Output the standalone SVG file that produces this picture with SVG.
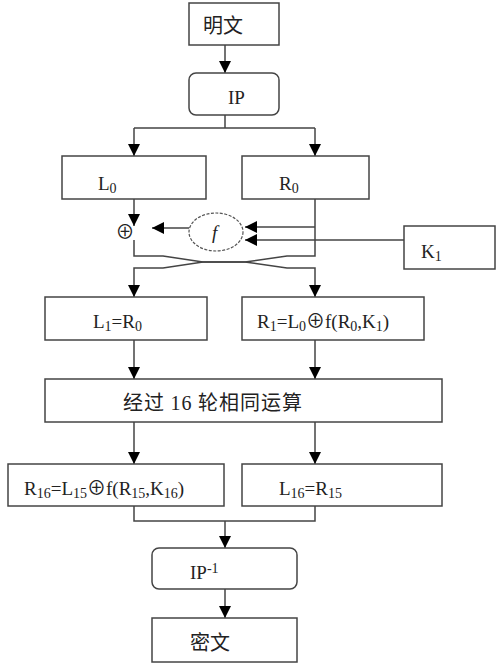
<svg xmlns="http://www.w3.org/2000/svg" width="498" height="664" viewBox="0 0 498 664">
<defs>
<marker id="ah" viewBox="0 0 12 12" refX="12" refY="6" markerWidth="12" markerHeight="12" markerUnits="userSpaceOnUse" orient="auto">
<path d="M0,0 L12,6 L0,12 Z" fill="#000"/>
</marker>
<style>
.box{fill:#fff;stroke:#444;stroke-width:1.5}
.ln{fill:none;stroke:#444;stroke-width:1.5}
.ar{fill:none;stroke:#444;stroke-width:1.5;marker-end:url(#ah)}
.t{font-family:"Liberation Serif","Noto Sans CJK SC",serif;font-size:19px;fill:#222}
.cn{font-family:"Noto Sans CJK SC","Liberation Serif",sans-serif;font-size:20px;fill:#222}
.s{font-size:14px}
</style>
</defs>
<rect width="498" height="664" fill="#fff"/>
<g id="connectors">
<path class="ar" d="M225,45 V73"/>
<path class="ln" d="M225,115 V128 M134,128 H315"/>
<path class="ar" d="M134,128 V156"/>
<path class="ar" d="M315,128 V156"/>
<path class="ar" d="M134,199 V226"/>
<path class="ar" d="M189,228 H152"/>
<path class="ar" d="M315,227 H245"/>
<path class="ar" d="M404,240 H245"/>
<path class="ar" d="M134,240 V256 H163 L203,262 H245 L287,268 H315 V297"/>
<path class="ar" d="M315,199 V256 H287 L245,262 H203 L163,268 H134 V297"/>
<path class="ar" d="M134,340 V379"/>
<path class="ar" d="M315,340 V379"/>
<path class="ar" d="M134,422 V464"/>
<path class="ar" d="M315,422 V464"/>
<path class="ln" d="M134,506 V521 H315 V506"/>
<path class="ar" d="M225,521 V548"/>
<path class="ar" d="M225,589 V618"/>
</g>
<g id="plain"><rect class="box" x="189" y="3" width="90" height="42"/><text class="cn" x="203" y="33">明文</text></g>
<g id="ip"><rect class="box" x="189" y="73" width="90" height="42" rx="7"/><text class="t" x="228" y="104">IP</text></g>
<g id="l0"><rect class="box" x="62" y="156" width="144" height="43"/><text class="t" x="98" y="190">L<tspan class="s" dy="3">0</tspan></text></g>
<g id="r0"><rect class="box" x="242" y="156" width="127" height="43"/><text class="t" x="279" y="190">R<tspan class="s" dy="3">0</tspan></text></g>
<g id="xor"><text class="t" x="125" y="239" text-anchor="middle" font-size="18">⊕</text></g>
<g id="f"><ellipse cx="216" cy="232" rx="27" ry="19" fill="#fff" stroke="#555" stroke-width="1.2" stroke-dasharray="3 1.5"/><text class="t" x="212" y="239" font-size="14" font-style="italic">f</text></g>
<g id="k1"><rect class="box" x="404" y="226" width="91" height="43"/><text class="t" x="421" y="258">K<tspan class="s" dy="3">1</tspan></text></g>
<g id="l1"><rect class="box" x="45" y="297" width="162" height="43"/><text class="t" x="93" y="328">L<tspan class="s" dy="3">1</tspan><tspan dy="-3">=R</tspan><tspan class="s" dy="3">0</tspan></text></g>
<g id="r1"><rect class="box" x="242" y="297" width="182" height="43"/><text class="t" x="257" y="328">R<tspan class="s" dy="3">1</tspan><tspan dy="-3">=L</tspan><tspan class="s" dy="3">0</tspan><tspan dy="-3">⊕f(R</tspan><tspan class="s" dy="3">0</tspan><tspan dy="-3">,K</tspan><tspan class="s" dy="3">1</tspan><tspan dy="-3">)</tspan></text></g>
<g id="rounds"><rect class="box" x="45" y="379" width="397" height="43"/><text class="cn" x="123" y="410" letter-spacing="1">经过 <tspan font-family="Liberation Serif">16</tspan> 轮相同运算</text></g>
<g id="r16"><rect class="box" x="8" y="464" width="216" height="42"/><text class="t" x="24" y="495">R<tspan class="s" dy="3">16</tspan><tspan dy="-3">=L</tspan><tspan class="s" dy="3">15</tspan><tspan dy="-3">⊕f(R</tspan><tspan class="s" dy="3">15</tspan><tspan dy="-3">,K</tspan><tspan class="s" dy="3">16</tspan><tspan dy="-3">)</tspan></text></g>
<g id="l16"><rect class="box" x="242" y="464" width="200" height="42"/><text class="t" x="279" y="495">L<tspan class="s" dy="3">16</tspan><tspan dy="-3">=R</tspan><tspan class="s" dy="3">15</tspan></text></g>
<g id="ipinv"><rect class="box" x="152" y="548" width="145" height="41" rx="7"/><text class="t" x="190" y="579">IP<tspan class="s" dy="-6">-1</tspan></text></g>
<g id="cipher"><rect class="box" x="152" y="618" width="145" height="44"/><text class="cn" x="190" y="650">密文</text></g>
</svg>
